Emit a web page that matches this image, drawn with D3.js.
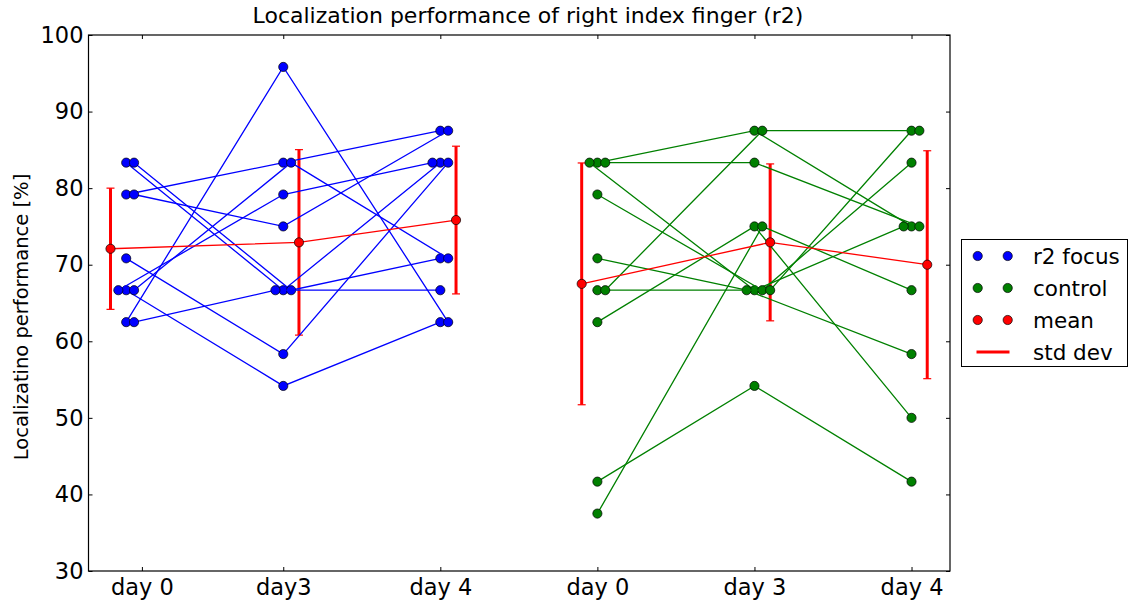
<!DOCTYPE html>
<html>
<head>
<meta charset="utf-8">
<script src="https://cdn.jsdelivr.net/npm/d3@7"></script>
<style>
  body { margin: 0; background: #fff; }
  text { font-family: "DejaVu Sans", sans-serif; fill: #000; }
</style>
</head>
<body>
<svg id="chart" width="1128" height="604"></svg>
<script>
// Tick labels and their positions on the x axis
const dayLabels = ["day 0", "day3", "day 4", "day 0", "day 3", "day 4"];
const tickAt = [1.1, 2, 3, 4, 5, 6];
const yTicks = [30, 40, 50, 60, 70, 80, 90, 100];

// Localization performance [%] per subject (index = subject)
const r2Day0 = [83.33, 83.33, 79.17, 79.17, 70.83, 66.67, 66.67, 66.67, 62.5, 62.5];
const r2Day3 = [66.67, 66.67, 83.33, 75, 58.33, 54.17, 83.33, 79.17, 95.83, 66.67];
const r2Day4 = [83.33, 70.83, 87.5, 87.5, 83.33, 62.5, 70.83, 83.33, 62.5, 66.67];

const ctrlDay0 = [83.33, 83.33, 83.33, 79.17, 70.83, 66.67, 66.67, 62.5, 41.67, 37.5];
const ctrlDay3 = [87.5, 83.33, 66.67, 66.67, 66.67, 66.67, 87.5, 75, 54.17, 75];
const ctrlDay4 = [75, 75, 75, 83.33, 58.33, 87.5, 87.5, 50, 41.67, 66.67];

const legendLabels = ["r2 focus", "control", "mean", "std dev"];

// ---- layout ----
const svg = d3.select("#chart");
const plot = { left: 88.5, right: 950, top: 35, bottom: 571 };

const x = d3.scaleLinear().domain([0.76, 6.245]).range([plot.left, plot.right]);
const y = d3.scaleLinear().domain([30, 100]).range([plot.bottom, plot.top]);

const groups = [
  { days: [r2Day0, r2Day3, r2Day4], base: [1, 2, 3], color: "#0000ff" },
  { days: [ctrlDay0, ctrlDay3, ctrlDay4], base: [4, 5, 6], color: "#008000" }
];
const meanShift = [-0.1, 0.1, 0.1];
const step = 0.05;
const slotOrder = [0, 1, -1, 2, -2, 3];

// Spread subjects with identical scores side by side
function positions(g) {
  return g.days.map((vals, d) => {
    const seen = new Map();
    return vals.map(v => {
      const k = v.toFixed(2);
      const n = seen.get(k) || 0;
      seen.set(k, n + 1);
      return g.base[d] + slotOrder[n] * step;
    });
  });
}

function stats(vals) {
  const m = d3.mean(vals);
  const s = Math.sqrt(d3.mean(vals, v => (v - m) * (v - m)));
  return { m, s };
}

const line = d3.line().x(d => x(d[0])).y(d => y(d[1]));
const body = svg.append("g");

groups.forEach(g => {
  const pos = positions(g);
  const nSub = g.days[0].length;
  const summary = g.days.map(stats);
  const meanPts = summary.map((st, d) => [g.base[d] + meanShift[d], st.m, st.s]);

  // std dev bars
  const eb = body.append("g");
  meanPts.forEach(p => {
    const cx = x(p[0]);
    eb.append("line").attr("x1", cx).attr("x2", cx)
      .attr("y1", y(p[1] - p[2])).attr("y2", y(p[1] + p[2]))
      .attr("stroke", "#ff0000").attr("stroke-width", 3);
    [p[1] - p[2], p[1] + p[2]].forEach(v => {
      eb.append("line").attr("x1", cx - 4).attr("x2", cx + 4)
        .attr("y1", y(v)).attr("y2", y(v))
        .attr("stroke", "#ff0000").attr("stroke-width", 1.2);
    });
  });

  // individual subjects
  for (let i = 0; i < nSub; i++) {
    const pts = g.days.map((vals, d) => [pos[d][i], vals[i]]);
    const sg = body.append("g");
    sg.append("path").attr("d", line(pts))
      .attr("fill", "none").attr("stroke", g.color).attr("stroke-width", 1.3);
    sg.selectAll("circle").data(pts).join("circle")
      .attr("cx", d => x(d[0])).attr("cy", d => y(d[1])).attr("r", 4.6)
      .attr("fill", g.color).attr("stroke", "#000").attr("stroke-width", 0.7);
  }

  // group mean
  const mg = body.append("g");
  mg.append("path").attr("d", line(meanPts))
    .attr("fill", "none").attr("stroke", "#ff0000").attr("stroke-width", 1.3);
  mg.selectAll("circle").data(meanPts).join("circle")
    .attr("cx", d => x(d[0])).attr("cy", d => y(d[1])).attr("r", 4.6)
    .attr("fill", "#ff0000").attr("stroke", "#000").attr("stroke-width", 0.7);
});

// ---- axes (ticks inward on all sides) ----
const fs = "22.5px";
const xb = svg.append("g").attr("transform", `translate(0,${plot.bottom})`)
  .call(d3.axisBottom(x).tickValues(tickAt).tickFormat((d, i) => dayLabels[i])
    .tickSizeInner(-4).tickSizeOuter(0).tickPadding(8));
const xt = svg.append("g").attr("transform", `translate(0,${plot.top})`)
  .call(d3.axisTop(x).tickValues(tickAt).tickFormat("")
    .tickSizeInner(-4).tickSizeOuter(0));
const yl = svg.append("g").attr("transform", `translate(${plot.left},0)`)
  .call(d3.axisLeft(y).tickValues(yTicks).tickFormat(d3.format("d"))
    .tickSizeInner(-4).tickSizeOuter(0).tickPadding(5));
const yr = svg.append("g").attr("transform", `translate(${plot.right},0)`)
  .call(d3.axisRight(y).tickValues(yTicks).tickFormat("")
    .tickSizeInner(-4).tickSizeOuter(0));

[xb, xt, yl, yr].forEach(a => {
  a.select(".domain").remove();
  a.selectAll(".tick line").attr("stroke", "#000").attr("stroke-width", 1);
  a.selectAll("text").style("font-size", fs).attr("fill", "#000");
});

svg.append("rect")
  .attr("x", plot.left).attr("y", plot.top)
  .attr("width", plot.right - plot.left).attr("height", plot.bottom - plot.top)
  .attr("fill", "none").attr("stroke", "#000").attr("stroke-width", 1.2);

// ---- titles ----
svg.append("text")
  .attr("x", 528).attr("y", 23)
  .attr("text-anchor", "middle").style("font-size", "22px")
  .text("Localization performance of right index finger (r2)");

svg.append("text")
  .attr("transform", `translate(28,317) rotate(-90)`)
  .attr("text-anchor", "middle").style("font-size", "19.5px")
  .text("Localizatino performance [%]");

// ---- legend ----
const lg = svg.append("g");
lg.append("rect").attr("x", 961.5).attr("y", 239.5).attr("width", 166).attr("height", 127)
  .attr("fill", "#fff").attr("stroke", "#000").attr("stroke-width", 1);
const legColors = ["#0000ff", "#008000", "#ff0000"];
legendLabels.forEach((lab, i) => {
  const ly = 256 + i * 32;
  if (i < 3) {
    [977.7, 1007.7].forEach(cx => lg.append("circle").attr("cx", cx).attr("cy", ly).attr("r", 4.6)
      .attr("fill", legColors[i]).attr("stroke", "#000").attr("stroke-width", 0.7));
  } else {
    lg.append("line").attr("x1", 976.5).attr("x2", 1009.5).attr("y1", ly).attr("y2", ly)
      .attr("stroke", "#ff0000").attr("stroke-width", 3);
  }
  lg.append("text").attr("x", 1033).attr("y", ly).attr("dy", "0.36em")
    .style("font-size", "21.5px").text(lab);
});
</script>
</body>
</html>
